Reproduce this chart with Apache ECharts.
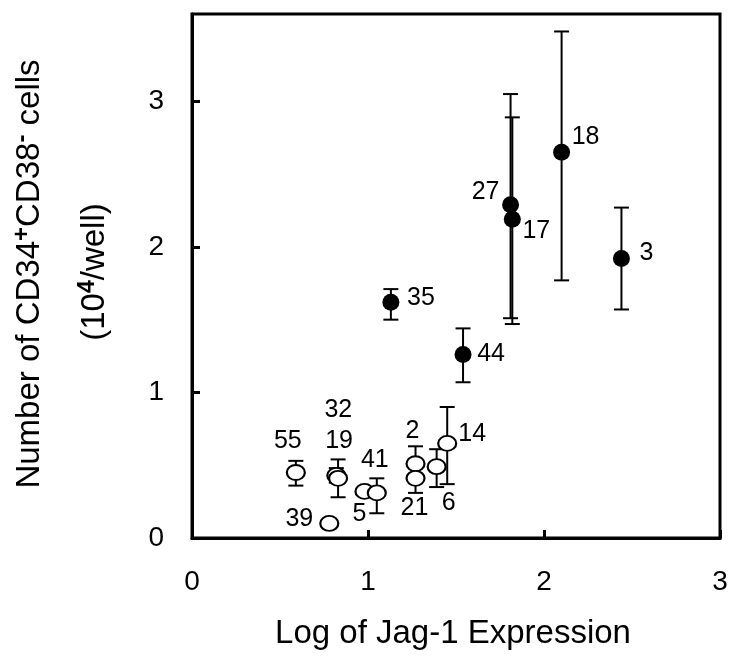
<!DOCTYPE html>
<html>
<head>
<meta charset="UTF-8">
<title>Jag-1 vs CD34+CD38- cells</title>
<script src="https://cdn.jsdelivr.net/npm/echarts@6/dist/echarts.min.js"></script>
<style>
  html, body { margin: 0; padding: 0; background: #fff; }
  #main { width: 731px; height: 657px; }
</style>
</head>
<body>
<div id="main"></div>
<script>
// filled circles
var filledLabels = ['18', '27', '17', '3', '35', '44'];
var filledX = [2.10, 1.81, 1.82, 2.44, 1.13, 1.54];
var filledY = [2.65, 2.29, 2.19, 1.92, 1.62, 1.26];
var filledLow = [1.77, 1.51, 1.47, 1.57, 1.50, 1.07];
var filledHigh = [3.48, 3.05, 2.89, 2.27, 1.71, 1.44];

// open circles
var openLabels = ['55', '32', '19', '39', '5', '41', '2', '21', '6', '14'];
var openX = [0.59, 0.82, 0.83, 0.78, 0.98, 1.05, 1.27, 1.27, 1.39, 1.45];
var openY = [0.45, 0.43, 0.41, 0.10, 0.32, 0.31, 0.51, 0.41, 0.49, 0.65];
var openLow = [0.36, 0.38, 0.28, 0.10, 0.32, 0.17, 0.41, 0.31, 0.35, 0.37];
var openHigh = [0.53, 0.48, 0.54, 0.10, 0.32, 0.41, 0.63, 0.50, 0.61, 0.90];

var xTicks = [0, 1, 2, 3];
var yTicks = [0, 1, 2, 3];

var FONT = "'Liberation Sans', Arial, sans-serif";

// where each number sits relative to its point (px)
var labelShift = {
  '18': [24, -15], '27': [-25, -13], '17': [24, 12], '3': [25, -5],
  '35': [30, -4], '44': [28, 0], '14': [25, -9], '6': [12, 36],
  '21': [-1, 30], '2': [-3, -33], '41': [-2, -33], '5': [-5, 23],
  '39': [-30, -4], '55': [-8, -31], '19': [1, -37], '32': [2, -65]
};

function points(xs, ys, names) {
  return xs.map(function (x, i) {
    return {
      value: [x, ys[i]],
      name: names[i],
      label: { offset: labelShift[names[i]] }
    };
  });
}

function bars(xs, lo, hi) {
  var out = [];
  for (var i = 0; i < xs.length; i++) {
    if (hi[i] > lo[i]) out.push([xs[i], lo[i], hi[i]]);
  }
  return out;
}

function renderErr(params, api) {
  var x = api.value(0);
  var lo = api.coord([x, api.value(1)]);
  var hi = api.coord([x, api.value(2)]);
  var hw = 7.5;
  var st = { stroke: '#000', lineWidth: 2, fill: null };
  return {
    type: 'group',
    children: [
      { type: 'line', shape: { x1: lo[0], y1: lo[1], x2: hi[0], y2: hi[1] }, style: st },
      { type: 'line', shape: { x1: lo[0] - hw, y1: lo[1], x2: lo[0] + hw, y2: lo[1] }, style: st },
      { type: 'line', shape: { x1: hi[0] - hw, y1: hi[1], x2: hi[0] + hw, y2: hi[1] }, style: st }
    ]
  };
}

var labelStyle = {
  show: true,
  position: 'inside',
  formatter: '{b}',
  color: '#000',
  fontSize: 25,
  fontFamily: FONT
};

var myChart = echarts.init(document.getElementById('main'), null, { renderer: 'canvas' });

var option = {
  animation: false,
  backgroundColor: '#fff',
  grid: {
    left: 192, right: 11, top: 14, bottom: 119,
    show: true, borderColor: '#000', borderWidth: 3
  },
  xAxis: {
    type: 'value', min: xTicks[0], max: xTicks[xTicks.length - 1], interval: 1,
    axisLine: { show: true, lineStyle: { color: '#000', width: 3 } },
    axisTick: { show: true, inside: true, length: 8, lineStyle: { color: '#000', width: 3 } },
    splitLine: { show: false },
    axisLabel: { color: '#000', fontSize: 28, fontFamily: FONT, margin: 30 }
  },
  yAxis: {
    type: 'value', min: yTicks[0], max: 3.6, interval: 1,
    axisLine: { show: true, lineStyle: { color: '#000', width: 3 } },
    axisTick: { show: true, inside: true, length: 8, lineStyle: { color: '#000', width: 3 } },
    splitLine: { show: false },
    axisLabel: { color: '#000', fontSize: 28, fontFamily: FONT, margin: 28, showMaxLabel: false }
  },
  graphic: [
    {
      type: 'text', x: 30, y: 274, rotation: Math.PI / 2,
      style: {
        text: 'Number of CD34{s|+}CD38{s|-} cells',
        font: '33px ' + FONT, fill: '#000', align: 'center', verticalAlign: 'middle',
        rich: { s: { fontSize: 24, fontFamily: FONT, fontWeight: 'bold', verticalAlign: 'top', padding: [0, 0, 16, 0] } }
      }
    },
    {
      type: 'text', x: 95, y: 272, rotation: Math.PI / 2,
      style: {
        text: '(10{s|4}/well)',
        font: '33px ' + FONT, fill: '#000', align: 'center', verticalAlign: 'middle',
        rich: { s: { fontSize: 23, fontFamily: FONT, fontWeight: 'bold', verticalAlign: 'top', padding: [0, 0, 14, 0] } }
      }
    },
    {
      type: 'text', x: 453, y: 634,
      style: {
        text: 'Log of Jag-1 Expression',
        font: '33px ' + FONT, fill: '#000', align: 'center', verticalAlign: 'middle'
      }
    }
  ],
  series: [
    {
      type: 'custom', name: 'err filled', renderItem: renderErr,
      data: bars(filledX, filledLow, filledHigh), z: 2
    },
    {
      type: 'custom', name: 'err open', renderItem: renderErr,
      data: bars(openX, openLow, openHigh), z: 2
    },
    {
      type: 'scatter', name: 'filled', symbol: 'circle', symbolSize: 17,
      itemStyle: { color: '#000', opacity: 1 },
      label: labelStyle,
      data: points(filledX, filledY, filledLabels), z: 3
    },
    {
      type: 'scatter', name: 'open', symbol: 'circle', symbolSize: [18, 15],
      itemStyle: { color: '#fff', borderColor: '#000', borderWidth: 2, opacity: 1 },
      label: labelStyle,
      data: points(openX, openY, openLabels), z: 3
    }
  ]
};

myChart.setOption(option);
</script>
</body>
</html>
